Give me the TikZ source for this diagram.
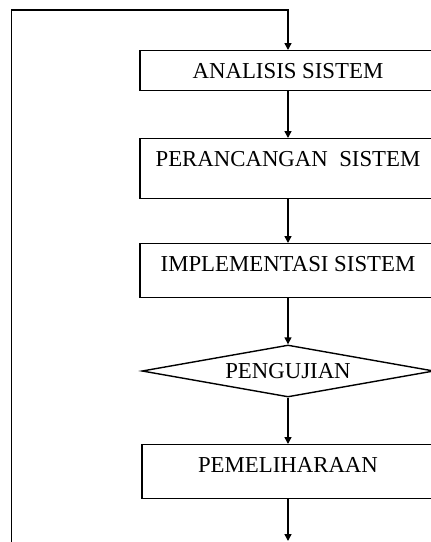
\documentclass[tikz,border=0pt]{standalone}
\usepackage{fontspec}
\setmainfont{Liberation Serif}
\usetikzlibrary{shapes.geometric,arrows.meta}
\begin{document}
\begin{tikzpicture}[x=1pt,y=-1pt,
  every node/.style={font=\fontsize{22.8}{27}\selectfont},
  procbox/.style={draw,line width=1.4pt,rectangle,inner ysep=0pt,minimum width=296pt,anchor=north},
  decis/.style={draw,line width=1.4pt,diamond,aspect=5.5,inner sep=0pt,minimum width=292pt,minimum height=52pt},
  arr/.style={line width=1.4pt,-{Triangle[length=7pt,width=7pt]}},
  lne/.style={line width=1.4pt}]
\useasboundingbox (0,0) rectangle (431,542);
\clip (0,0) rectangle (431,542);
\node[procbox,text height=28pt,text depth=12pt] (ana) at (288,50) {ANALISIS SISTEM};
\node[procbox,text height=28pt,text depth=32pt] (per) at (288,138) {PERANCANGAN\ \ SISTEM};
\node[procbox,text height=27.7pt,text depth=26.3pt] (imp) at (288,243) {IMPLEMENTASI SISTEM};
\node[decis] (uji) at (288,371) {PENGUJIAN};
\node[procbox,minimum width=292pt,text height=27.7pt,text depth=26.3pt] (pem) at (288,444) {PEMELIHARAAN};
\coordinate (pend) at (288,541);
\coordinate (lbot) at (11.5,548);
\coordinate (ltop) at (11.5,10);
\draw[arr] (ana) -- (per);
\draw[arr] (per) -- (imp);
\draw[arr] (imp) -- (uji);
\draw[arr] (uji) -- (pem);
\draw[arr] (pem) -- (pend);
\draw[arr] (lbot) -- (ltop) -| (ana.north);
\end{tikzpicture}
\end{document}
